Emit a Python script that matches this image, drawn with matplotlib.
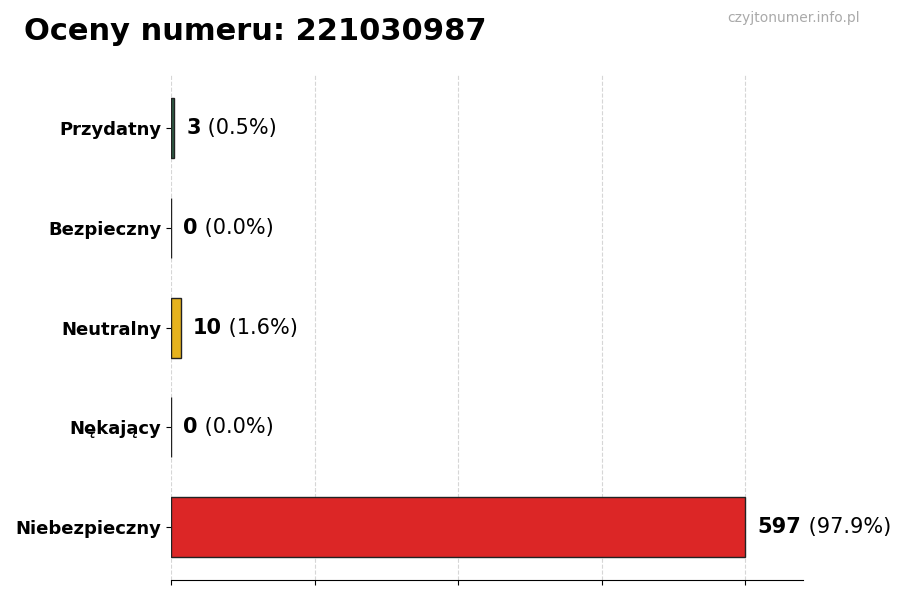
import numpy as np
import matplotlib.pyplot as plt

categories = ["Przydatny", "Bezpieczny", "Neutralny", "Nękający", "Niebezpieczny"]
counts = [3, 0, 10, 0, 597]
percents = [0.5, 0.0, 1.6, 0.0, 97.9]
colors = ["#2f5d46", "#3a7d5a", "#e6b31e", "#c2410c", "#dc2626"]


def main():
    fig, ax = plt.subplots(figsize=(9, 6), dpi=100)
    fig.subplots_adjust(left=0.19, right=0.892, top=0.875, bottom=0.033)

    y = np.arange(len(categories))
    ax.barh(y, counts, height=0.6, color=colors, edgecolor="#222222", linewidth=1)
    ax.invert_yaxis()
    ax.set_yticks(y)
    ax.set_yticklabels(categories, fontsize=13, fontweight="bold")

    vmax = max(counts)
    ax.set_xlim(0, vmax * 1.1)
    ax.set_xticks(np.linspace(0, vmax, 5))
    ax.set_xticklabels([])
    ax.grid(axis="x", linestyle="--", color="#cccccc", alpha=0.8)
    ax.set_axisbelow(True)
    for s in ["top", "right", "left"]:
        ax.spines[s].set_visible(False)

    for yi, c, p in zip(y, counts, percents):
        t = ax.annotate(str(c), xy=(c, yi), xytext=(9, 0), textcoords="offset points",
                        va="center", ha="left", fontsize=15, fontweight="bold")
        ax.annotate(f" ({p:.1f}%)", xy=(1, 0.5), xycoords=t, va="center", ha="left",
                    fontsize=15)

    fig.text(0.027, 0.947, "Oceny numeru: 221030987", fontsize=22, fontweight="bold",
             ha="left", va="center")
    fig.text(0.955, 0.97, "czyjtonumer.info.pl", fontsize=10, color="#aaaaaa",
             ha="right", va="center")

    plt.savefig("out.png", dpi=100)


if __name__ == "__main__":
    main()
